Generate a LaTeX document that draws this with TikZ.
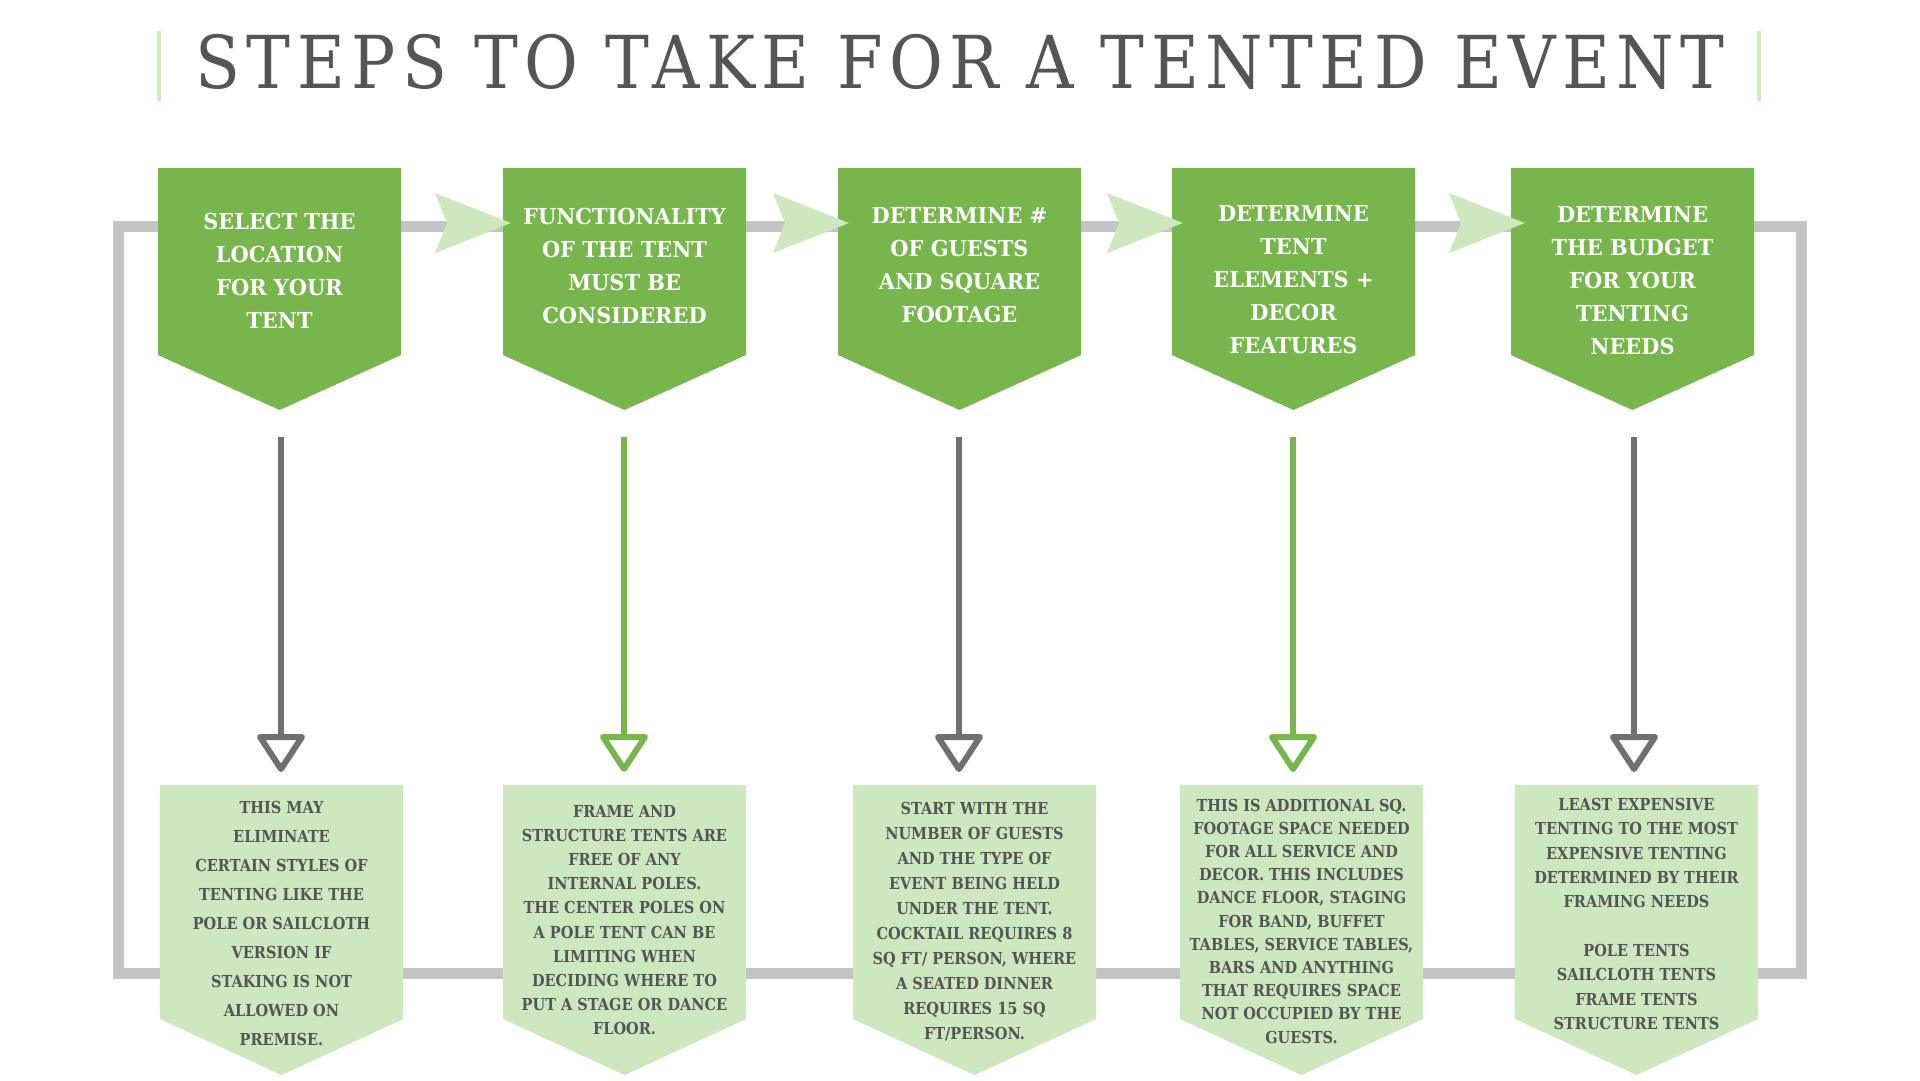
\documentclass[tikz,border=0pt]{standalone}
\usepackage{fontspec}
\setmainfont{DejaVu Serif}
\newfontfamily\titlefont[FakeStretch=0.9,LetterSpace=8.8]{DejaVu Serif}
\newfontfamily\headfont[FakeStretch=0.95]{DejaVu Serif}
\newfontfamily\bodyfont[FakeStretch=0.88]{DejaVu Serif}
\usetikzlibrary{calc}
\definecolor{dgreen}{HTML}{76B64C}
\definecolor{lgreen}{HTML}{CDE7BF}
\definecolor{loopgray}{HTML}{C4C4C4}
\definecolor{arrgray}{HTML}{707070}
\definecolor{txtgray}{HTML}{555555}
\begin{document}
\begin{tikzpicture}[x=1pt,y=-1pt,
  headtext/.style={text=white, align=center, inner sep=0pt,
    font=\headfont\bfseries\fontsize{22}{33}\selectfont},
  bodytext/.style={text=txtgray, align=center, inner sep=0pt,
    font=\bodyfont\bfseries\fontsize{16.5}{24.5}\selectfont},
  loopline/.style={draw=loopgray, line width=11pt},
  stem/.style={line width=6pt},
  openhead/.style={line width=6pt, line join=round, line cap=round}]
\useasboundingbox (0,0) rectangle (1920,1080);
\fill[white] (0,0) rectangle (1920,1080);
% title
\draw[lgreen, line width=4pt] (159,31) -- (159,101);
\draw[lgreen, line width=4pt] (1759,31) -- (1759,101);
\node[anchor=base, text=txtgray, inner sep=0pt,
  font=\titlefont\fontsize{73}{80}\selectfont] (title) at (960,88)
  {STEPS TO TAKE FOR A TENTED EVENT};
% loop
\draw[loopline] (118,226) rectangle (1801,973);
% top boxes
\foreach \l in {158,503,838,1172,1511}
  \fill[dgreen] (\l,168) -- (\l+243,168) -- (\l+243,355) -- (\l+121.5,410) -- (\l,355) -- cycle;
% bottom boxes
\foreach \l in {160,503,853,1180,1515}
  \fill[lgreen] (\l,785) -- (\l+243,785) -- (\l+243,1019) -- (\l+121.5,1075) -- (\l,1019) -- cycle;
% chevrons
\foreach \b in {435,773,1107,1449}
  \fill[lgreen] (\b,193) -- (\b+76,223) -- (\b,253) -- (\b+12,223) -- cycle;
% head texts
\node[headtext] (h1) at (279.5,271) {SELECT THE\\LOCATION\\FOR YOUR\\TENT};
\node[headtext] (h2) at (624.5,266) {FUNCTIONALITY\\OF THE TENT\\MUST BE\\CONSIDERED};
\node[headtext] (h3) at (959.5,265) {DETERMINE \#\\OF GUESTS\\AND SQUARE\\FOOTAGE};
\node[headtext] (h4) at (1293.5,280) {DETERMINE\\TENT\\ELEMENTS +\\DECOR\\FEATURES};
\node[headtext] (h5) at (1632.5,281) {DETERMINE\\THE BUDGET\\FOR YOUR\\TENTING\\NEEDS};
% body texts
\node[bodytext, font=\bodyfont\bfseries\fontsize{16.5}{29}\selectfont] (b1) at (281.5,923)
  {THIS MAY\\ELIMINATE\\CERTAIN STYLES OF\\TENTING LIKE THE\\POLE OR SAILCLOTH\\VERSION IF\\STAKING IS NOT\\ALLOWED ON\\PREMISE.};
\node[bodytext, font=\bodyfont\bfseries\fontsize{16.5}{24.2}\selectfont] (b2) at (624.5,920)
  {FRAME AND\\STRUCTURE TENTS ARE\\FREE OF ANY\\INTERNAL POLES.\\THE CENTER POLES ON\\A POLE TENT CAN BE\\LIMITING WHEN\\DECIDING WHERE TO\\PUT A STAGE OR DANCE\\FLOOR.};
\node[bodytext, font=\bodyfont\bfseries\fontsize{16.5}{25}\selectfont] (b3) at (974.5,922)
  {START WITH THE\\NUMBER OF GUESTS\\AND THE TYPE OF\\EVENT BEING HELD\\UNDER THE TENT.\\COCKTAIL REQUIRES 8\\SQ FT/ PERSON, WHERE\\A SEATED DINNER\\REQUIRES 15 SQ\\FT/PERSON.};
\node[bodytext, font=\bodyfont\bfseries\fontsize{16.5}{23.2}\selectfont] (b4) at (1301.5,921)
  {THIS IS ADDITIONAL SQ.\\FOOTAGE SPACE NEEDED\\FOR ALL SERVICE AND\\DECOR. THIS INCLUDES\\DANCE FLOOR, STAGING\\FOR BAND, BUFFET\\TABLES, SERVICE TABLES,\\BARS AND ANYTHING\\THAT REQUIRES SPACE\\NOT OCCUPIED BY THE\\GUESTS.};
\node[bodytext, font=\bodyfont\bfseries\fontsize{16.5}{24.3}\selectfont] (b5) at (1636.5,914)
  {LEAST EXPENSIVE\\TENTING TO THE MOST\\EXPENSIVE TENTING\\DETERMINED BY THEIR\\FRAMING NEEDS\\[24.3pt]POLE TENTS\\SAILCLOTH TENTS\\FRAME TENTS\\STRUCTURE TENTS};
% vertical arrows
\foreach \i/\x/\c in {1/281/arrgray,2/624/dgreen,3/959/arrgray,4/1293/dgreen,5/1634/arrgray}{
  \coordinate (s\i) at (\x,437);
  \coordinate (e\i) at (\x,737);
  \draw[stem, draw=\c] (s\i) -- (e\i);
  \draw[openhead, draw=\c] ($(e\i)+(-21,0)$) -- ($(e\i)+(21,0)$) -- ($(e\i)+(0,32)$) -- cycle;
}
\end{tikzpicture}
\end{document}
